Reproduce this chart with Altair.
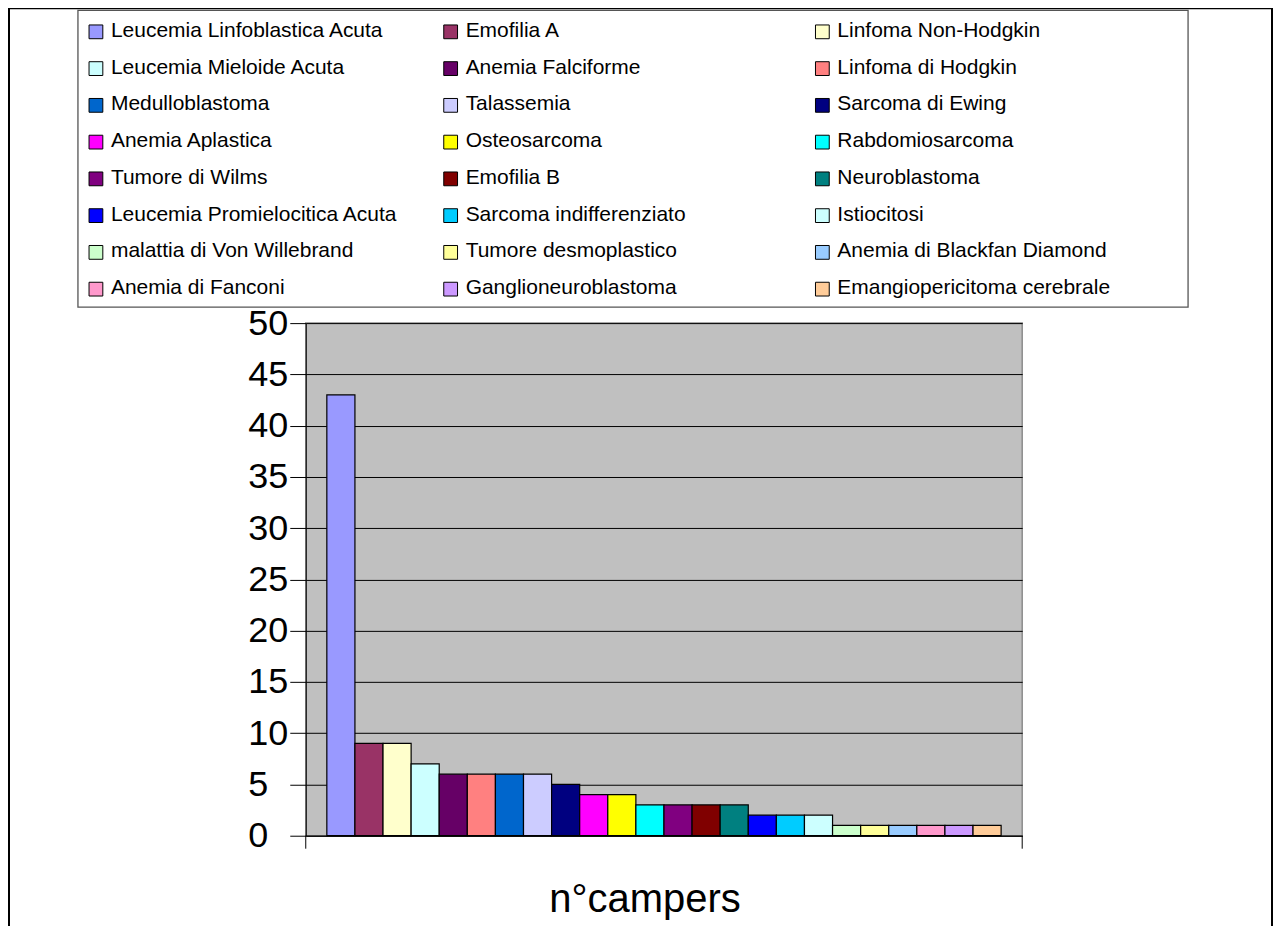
import altair as alt
import pandas as pd

categories = [
    "Leucemia Linfoblastica Acuta", "Emofilia A", "Linfoma Non-Hodgkin",
    "Leucemia Mieloide Acuta", "Anemia Falciforme", "Linfoma di Hodgkin",
    "Medulloblastoma", "Talassemia", "Sarcoma di Ewing",
    "Anemia Aplastica", "Osteosarcoma", "Rabdomiosarcoma",
    "Tumore di Wilms", "Emofilia B", "Neuroblastoma",
    "Leucemia Promielocitica Acuta", "Sarcoma indifferenziato", "Istiocitosi",
    "malattia di Von Willebrand", "Tumore desmoplastico", "Anemia di Blackfan Diamond",
    "Anemia di Fanconi", "Ganglioneuroblastoma", "Emangiopericitoma cerebrale",
]
values = [43, 9, 9, 7, 6, 6, 6, 6, 5, 4, 4, 3, 3, 3, 3, 2, 2, 2, 1, 1, 1, 1, 1, 1]
colors = [
    "#9999FF", "#993366", "#FFFFCC", "#CCFFFF", "#660066", "#FF8080",
    "#0066CC", "#CCCCFF", "#000080", "#FF00FF", "#FFFF00", "#00FFFF",
    "#800080", "#800000", "#008080", "#0000FF", "#00CCFF", "#CCFFFF",
    "#CCFFCC", "#FFFF99", "#99CCFF", "#FF99CC", "#CC99FF", "#FFCC99",
]
y_ticks = [0, 5, 10, 15, 20, 25, 30, 35, 40, 45, 50]
x_title = "n°campers"

FONT = "Liberation Sans"
W, H = 717, 513

df = pd.DataFrame({"name": categories, "value": values})
df["idx"] = range(len(categories))
df["col"] = df["idx"] % 3
df["row"] = df["idx"] // 3

color_scale = alt.Scale(domain=categories, range=colors)

# legend placement scales (relative to plot origin)
leg_x = alt.Scale(domain=[0, 1, 2], range=[-210, 145, 517])
leg_y = alt.Scale(domain=[0, 7], range=[-291.5, -34])

one = pd.DataFrame({"a": [0]})

outer = alt.Chart(one).mark_rect(fill="white", fillOpacity=0, stroke="black", strokeWidth=2).encode(
    x=alt.value(-297), x2=alt.value(967), y=alt.value(-315), y2=alt.value(700)
)

legend_box = alt.Chart(one).mark_rect(fill="white", fillOpacity=0, stroke="#555555", strokeWidth=1.3).encode(
    x=alt.value(-228), x2=alt.value(883), y=alt.value(-313), y2=alt.value(-16)
)

leg_sym = alt.Chart(df).mark_square(size=190, stroke="black", strokeWidth=1, opacity=1).encode(
    x=alt.X("col:Q", scale=leg_x, axis=None),
    y=alt.Y("row:Q", scale=leg_y, axis=None),
    color=alt.Color("name:N", scale=color_scale, legend=None),
)

leg_txt = alt.Chart(df).mark_text(align="left", baseline="middle", dx=15, dy=-1,
                                  fontSize=21, font=FONT, color="black").encode(
    x=alt.X("col:Q", scale=leg_x, axis=None),
    y=alt.Y("row:Q", scale=leg_y, axis=None),
    text="name:N",
)

bars = alt.Chart(df).mark_bar(stroke="black", strokeWidth=1.2, opacity=1).encode(
    x=alt.X("name:N", sort=categories,
            scale=alt.Scale(paddingInner=0, paddingOuter=0.75),
            axis=alt.Axis(labels=False, ticks=False, grid=False, domain=True,
                          domainColor="black", domainWidth=1,
                          title=x_title, titleX=339, titleY=76,
                          titleAlign="center", titleBaseline="alphabetic",
                          titleFont=FONT, titleFontSize=40, titleFontWeight="normal",
                          titleColor="black")),
    y=alt.Y("value:Q", scale=alt.Scale(domain=[0, 50], nice=False),
            axis=alt.Axis(values=y_ticks, grid=True, gridColor="black", gridWidth=1,
                          tickSize=16, tickColor="black", tickWidth=1,
                          domainColor="black", domainWidth=1,
                          labelFont=FONT, labelFontSize=36, labelPadding=42,
                          labelAlign="left",
                          labelColor="black", labelFlush=False, labelOverlap=False,
                          title=None)),
    color=alt.Color("name:N", scale=color_scale, legend=None),
)

edges = alt.Chart(pd.DataFrame({"e": [0, 1]})).mark_rule(color="black", strokeWidth=1).encode(
    x=alt.X("e:Q", scale=alt.Scale(domain=[0, 1], range=[0, W]), axis=None),
    y=alt.value(H), y2=alt.value(H + 13),
)

chart = alt.layer(outer, legend_box, bars, edges, leg_sym, leg_txt).resolve_scale(
    x="independent", y="independent"
).properties(
    width=W, height=H,
    autosize=alt.AutoSizeParams(type="none"),
    padding={"left": 298, "top": 315, "right": 251, "bottom": 90},
    background="white",
).configure_view(
    fill="#C0C0C0", stroke="#8c8c8c", strokeWidth=1.5
)

chart.save("out.html", embed_options={"renderer": "svg", "actions": False})
